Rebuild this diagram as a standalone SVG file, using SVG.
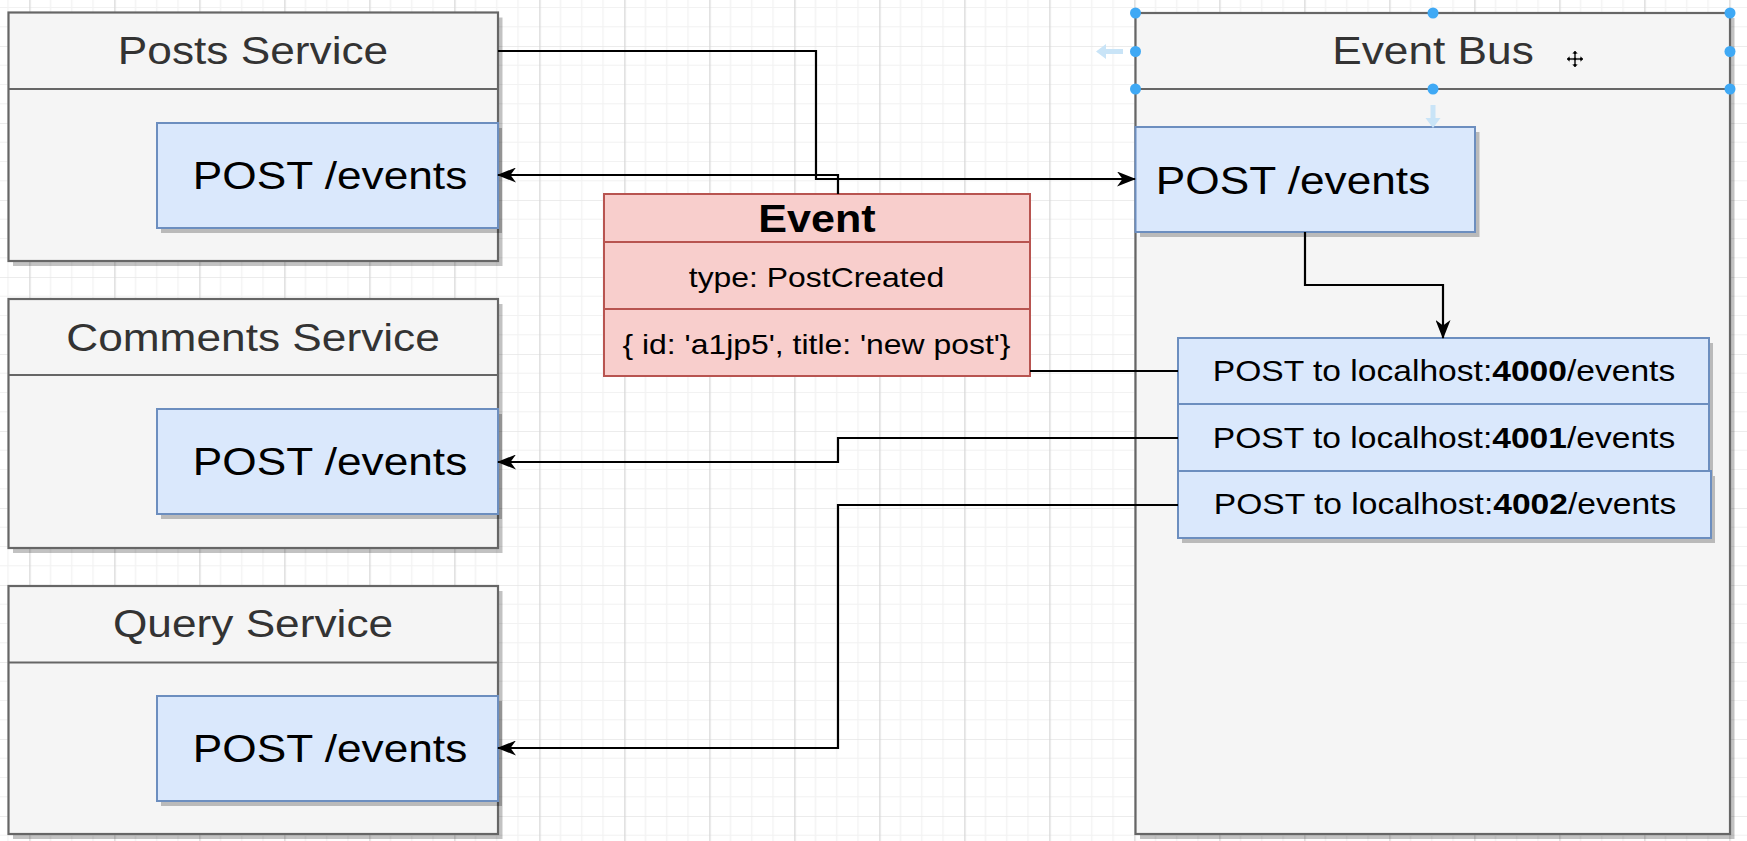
<svg xmlns="http://www.w3.org/2000/svg" width="1747" height="841" viewBox="0 0 1747 841">
<style>
  text { font-family: "Liberation Sans", Arial, Helvetica, sans-serif; text-anchor: middle; }
  .outer { fill: #f5f5f5; stroke: #666666; stroke-width: 2.2; }
  .hline { stroke: #666666; stroke-width: 2.2; fill: none; }
  .inner { fill: #dae8fc; stroke: #6c8ebf; stroke-width: 2; }
  .sh { fill: #000000; fill-opacity: 0.24; stroke: none; }
  .ev { fill: #f8cecc; stroke: #b85450; stroke-width: 2; }
  .evline { stroke: #b85450; stroke-width: 2; fill: none; }
  .hdr { font-size: 39.5px; fill: #333333; }
  .post { font-size: 39.5px; fill: #000000; }
  .lh { font-size: 30px; fill: #000000; }
  .evt { font-size: 38.5px; font-weight: bold; fill: #000000; }
  .evs { font-size: 28.5px; fill: #000000; }
  .conn { fill: none; stroke: #000000; stroke-width: 2.2; }
  .dot { fill: #3fa9f5; }
  .hint { fill: #c9e4f7; }
</style>
<defs>
  <pattern id="gridPat" patternUnits="userSpaceOnUse" x="29.3" y="46" width="85" height="77">
    <rect width="85" height="77" fill="#ffffff"/>
    <path d="M21.25 0V77M42.5 0V77M63.75 0V77M0 19.25H85M0 38.5H85M0 57.75H85" stroke="#f2f2f2" stroke-width="1.2" fill="none"/>
    <path d="M0 0H85" stroke="#e6e6e6" stroke-width="1.3" fill="none"/>
    <path d="M0.6 0V77" stroke="#d6d6d6" stroke-width="1.3" fill="none"/>
  </pattern>
  <marker id="arrow" markerUnits="userSpaceOnUse" markerWidth="19" markerHeight="15" refX="18" refY="7.5" orient="auto">
    <path d="M0,0 L19,7.5 L0,15 L5.5,7.5 Z" fill="#000000"/>
  </marker>
</defs>

<g id="background">
  <rect x="0" y="0" width="1747" height="841" fill="url(#gridPat)"/>
</g>

<g id="posts-service">
  <rect class="sh" x="13" y="17.5" width="489.5" height="248.5"/>
  <rect class="outer" x="8.5" y="12.5" width="489.5" height="248.5"/>
  <line class="hline" x1="8.5" y1="89" x2="498" y2="89"/>
  <text class="hdr" transform="translate(253,64) scale(1.12,1)">Posts Service</text>
  <g id="posts-post-events">
    <rect class="sh" x="161" y="128" width="341" height="105"/>
    <rect class="inner" x="157" y="123" width="341" height="105"/>
    <text class="post" transform="translate(330,189) scale(1.12,1)">POST /events</text>
  </g>
</g>

<g id="comments-service">
  <rect class="sh" x="13" y="304" width="489.5" height="249"/>
  <rect class="outer" x="8.5" y="299" width="489.5" height="249"/>
  <line class="hline" x1="8.5" y1="375" x2="498" y2="375"/>
  <text class="hdr" transform="translate(253,351) scale(1.12,1)">Comments Service</text>
  <g id="comments-post-events">
    <rect class="sh" x="161" y="414" width="341" height="105"/>
    <rect class="inner" x="157" y="409" width="341" height="105"/>
    <text class="post" transform="translate(330,475) scale(1.12,1)">POST /events</text>
  </g>
</g>

<g id="query-service">
  <rect class="sh" x="13" y="591" width="489.5" height="248"/>
  <rect class="outer" x="8.5" y="586" width="489.5" height="248"/>
  <line class="hline" x1="8.5" y1="662.5" x2="498" y2="662.5"/>
  <text class="hdr" transform="translate(253,637) scale(1.12,1)">Query Service</text>
  <g id="query-post-events">
    <rect class="sh" x="161" y="701" width="341" height="105"/>
    <rect class="inner" x="157" y="696" width="341" height="105"/>
    <text class="post" transform="translate(330,762) scale(1.12,1)">POST /events</text>
  </g>
</g>

<g id="event">
  <rect class="ev" x="604" y="194" width="426" height="182"/>
  <line class="evline" x1="604" y1="242" x2="1030" y2="242"/>
  <line class="evline" x1="604" y1="309" x2="1030" y2="309"/>
  <text class="evt" transform="translate(817,231.5) scale(1.12,1)">Event</text>
  <text class="evs" transform="translate(816.5,287) scale(1.12,1)">type: PostCreated</text>
  <text class="evs" transform="translate(816.5,354) scale(1.12,1)">{ id: 'a1jp5', title: 'new post'}</text>
</g>

<g id="event-bus">
  <rect class="sh" x="1140" y="18" width="594.5" height="821"/>
  <rect class="outer" x="1135.5" y="13" width="594.5" height="821"/>
  <line class="hline" x1="1135.5" y1="89" x2="1730" y2="89"/>
  <text class="hdr" transform="translate(1433,64) scale(1.12,1)">Event Bus</text>
  <g id="bus-post-events">
    <rect class="sh" x="1140" y="132" width="339.5" height="105"/>
    <rect class="inner" x="1135.5" y="127" width="339.5" height="105"/>
    <text class="post" transform="translate(1293,194) scale(1.12,1)">POST /events</text>
  </g>
  <g id="post-4000">
    <rect class="sh" x="1182" y="343" width="531" height="66"/>
    <rect class="inner" x="1178" y="338" width="531" height="66"/>
    <text class="lh" transform="translate(1444,381) scale(1.12,1)">POST to localhost:<tspan font-weight="bold">4000</tspan>/events</text>
  </g>
  <g id="post-4001">
    <rect class="sh" x="1182" y="409" width="531" height="67"/>
    <rect class="inner" x="1178" y="404" width="531" height="67"/>
    <text class="lh" transform="translate(1444,448) scale(1.12,1)">POST to localhost:<tspan font-weight="bold">4001</tspan>/events</text>
  </g>
  <g id="post-4002">
    <rect class="sh" x="1182" y="476" width="533" height="67"/>
    <rect class="inner" x="1178" y="471" width="533" height="67"/>
    <text class="lh" transform="translate(1445,514) scale(1.12,1)">POST to localhost:<tspan font-weight="bold">4002</tspan>/events</text>
  </g>
</g>

<g id="connectors">
  <polyline class="conn" points="498,51 816,51 816,179 1135,179" marker-end="url(#arrow)"/>
  <polyline class="conn" points="838,194 838,175 498,175" marker-end="url(#arrow)"/>
  <polyline class="conn" points="1305,232 1305,285 1443,285 1443,338" marker-end="url(#arrow)"/>
  <polyline class="conn" points="1030,371 1178,371"/>
  <polyline class="conn" points="1178,438 838,438 838,462 498,462" marker-end="url(#arrow)"/>
  <polyline class="conn" points="1178,505 838,505 838,748 498,748" marker-end="url(#arrow)"/>
</g>

<g id="selection">
  <path class="hint" d="M1096,51.5 L1106,44 L1106,49 L1123,49 L1123,54 L1106,54 L1106,59 Z"/>
  <path class="hint" d="M1433,128 L1425.5,118 L1430.5,118 L1430.5,105 L1435.5,105 L1435.5,118 L1440.5,118 Z"/>
  <circle class="dot" cx="1135.5" cy="13" r="5.5"/>
  <circle class="dot" cx="1433" cy="13" r="5.5"/>
  <circle class="dot" cx="1730" cy="13" r="5.5"/>
  <circle class="dot" cx="1135.5" cy="51.5" r="5.5"/>
  <circle class="dot" cx="1730" cy="51.5" r="5.5"/>
  <circle class="dot" cx="1135.5" cy="89" r="5.5"/>
  <circle class="dot" cx="1433" cy="89" r="5.5"/>
  <circle class="dot" cx="1730" cy="89" r="5.5"/>
  <g transform="translate(1575,59)">
    <path d="M0,-9 L3.5,-5 L1.2,-5 L1.2,-1.2 L5,-1.2 L5,-3.5 L9,0 L5,3.5 L5,1.2 L1.2,1.2 L1.2,5 L3.5,5 L0,9 L-3.5,5 L-1.2,5 L-1.2,1.2 L-5,1.2 L-5,3.5 L-9,0 L-5,-3.5 L-5,-1.2 L-1.2,-1.2 L-1.2,-5 L-3.5,-5 Z" fill="#000000" stroke="#ffffff" stroke-width="1"/>
  </g>
</g>
</svg>
